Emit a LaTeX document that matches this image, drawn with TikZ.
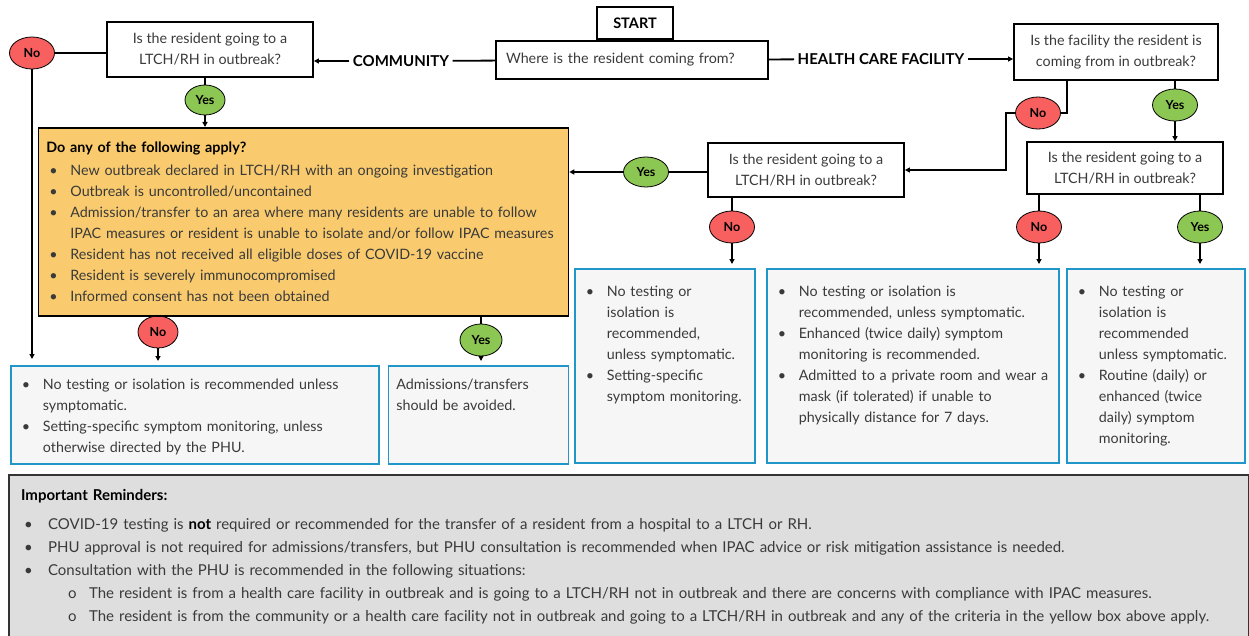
\documentclass[tikz,border=0pt]{standalone}
\usepackage{fontspec}
\setmainfont{Lato}
\usetikzlibrary{positioning, arrows.meta, shapes.geometric}
\definecolor{ycolor}{HTML}{F9CB6E}
\definecolor{nocolor}{HTML}{F85F5F}
\definecolor{yescolor}{HTML}{8DC753}
\definecolor{rcolor}{HTML}{2196C8}
\definecolor{rfill}{HTML}{F6F6F6}
\definecolor{gfill}{HTML}{DEDEDE}
\definecolor{tcolor}{HTML}{3A3A3A}
% bullet line with hanging indent (\bfirst opens the box, \blt starts a new one)
\newcommand{\bfirst}[1][24pt]{\hangindent=#1\hangafter=1\makebox[#1][l]{\hspace{3pt}\textbullet}}
\newcommand{\blt}[1][24pt]{\par\noindent\bfirst[#1]}
\newcommand{\sblt}{\par\noindent\hangindent=68pt\hangafter=1\makebox[68pt][l]{\hspace{47pt}o}}

\begin{document}
\begin{tikzpicture}[x=1pt, y=-1pt,
    qbox/.style={rectangle, draw, line width=1.8pt, align=center, text=tcolor, font=\fontsize{14.3}{21}\selectfont, inner sep=0pt},
    nobub/.style={ellipse, draw, fill=nocolor, line width=0.8pt, minimum width=45pt, minimum height=32pt, inner sep=0pt, font=\fontsize{12.5}{14}\selectfont\bfseries},
    yesbub/.style={nobub, fill=yescolor},
    resbox/.style={rectangle, draw=rcolor, fill=rfill, line width=1.8pt, align=left, text=tcolor, inner xsep=8pt, inner ysep=0pt, anchor=north west, font=\fontsize{14.3}{21}\selectfont},
    lbl/.style={font=\fontsize{15}{17}\selectfont\bfseries},
    conn/.style={line width=1.8pt},
    arr/.style={-{Triangle[length=5pt, width=5pt]}, line width=1.8pt},
  ]
    \useasboundingbox (0,0) rectangle (1249,636);

    % top row
    \node[qbox, line width=2pt, minimum width=76pt, minimum height=32pt, font=\fontsize{14.5}{16}\selectfont\bfseries, text=black] (start) at (635,23) {START};
    \node[qbox, minimum width=272pt, minimum height=38pt, align=left, text width=252pt] (where) at (632,60) {Where is the resident coming from?};
    \node[lbl] (comm) at (401,61) {COMMUNITY};
    \node[lbl] (hcf) at (881,59) {HEALTH CARE FACILITY};
    \node[qbox, minimum width=206pt, minimum height=55pt] (qcomm) at (210,49.5) {Is the resident going to a\\LTCH/RH in outbreak?};
    \node[qbox, minimum width=204pt, minimum height=56pt] (qfac) at (1116,52) {Is the facility the resident is\\coming from in outbreak?};
    \node[qbox, minimum width=196pt, minimum height=54pt] (qmid) at (806,170) {Is the resident going to a\\LTCH/RH in outbreak?};
    \node[qbox, minimum width=196pt, minimum height=52pt] (qright) at (1125,168) {Is the resident going to a\\LTCH/RH in outbreak?};

    % answers
    \node[nobub] (nocomm) at (32,53) {No};
    \node[yesbub, minimum width=40pt, minimum height=30pt] (yescomm) at (205,100) {Yes};
    \node[nobub] (nofac) at (1038,113) {No};
    \node[yesbub] (yesfac) at (1175,105) {Yes};
    \node[yesbub, minimum height=30pt] (yesmid) at (646,172) {Yes};
    \node[nobub] (nomid) at (732,227) {No};
    \node[nobub] (noright) at (1039,227) {No};
    \node[yesbub] (yesright) at (1200,227) {Yes};
    \node[nobub, minimum width=40pt] (noyel) at (158,332) {No};
    \node[yesbub, minimum width=42pt] (yesyel) at (481,340) {Yes};

    % criteria box
    \node[rectangle, draw, fill=ycolor, line width=1.8pt, align=left, text=tcolor, inner xsep=8pt, inner ysep=0pt, anchor=north west,
      font=\fontsize{14.3}{21}\selectfont, text width=514pt, text height=25pt, text depth=163pt] (apply) at (37.5,127)
      {{\color{black}\textbf{Do any of the following apply?}}\par\vspace{2pt}
       \blt New outbreak declared in LTCH/RH with an ongoing investigation
       \blt Outbreak is uncontrolled/uncontained
       \blt Admission/transfer to an area where many residents are unable to follow\newline IPAC measures or resident is unable to isolate and/or follow IPAC measures
       \blt Resident has not received all eligible doses of COVID-19 vaccine
       \blt Resident is severely immunocompromised
       \blt Informed consent has not been obtained\par};

    % outcome boxes
    \node[resbox, text width=352pt, text height=24pt, text depth=74pt] (r1) at (10,365)
      {\bfirst No testing or isolation is recommended unless\newline symptomatic.
       \blt Setting-specific symptom monitoring, unless\newline otherwise directed by the PHU.\par};
    \node[resbox, text width=164pt, text height=24pt, text depth=74pt] (r2) at (387.5,365)
      {Admissions/transfers\\should be avoided.};
    \node[resbox, text width=164pt, text height=28pt, text depth=166pt] (r3) at (574,268)
      {\bfirst No testing or\newline isolation is\newline recommended,\newline unless symptomatic.
       \blt Setting-specific\newline symptom monitoring.\par};
    \node[resbox, text width=276pt, text height=28pt, text depth=166pt] (r4) at (766,268)
      {\bfirst No testing or isolation is\newline recommended, unless symptomatic.
       \blt Enhanced (twice daily) symptom\newline monitoring is recommended.
       \blt Admitted to a private room and wear a\newline mask (if tolerated) if unable to\newline physically distance for 7 days.\par};
    \node[resbox, text width=162pt, text height=28pt, text depth=166pt] (r5) at (1066,268)
      {\bfirst No testing or\newline isolation is\newline recommended\newline unless symptomatic.
       \blt Routine (daily) or\newline enhanced (twice\newline daily) symptom\newline monitoring.\par};

    % reminders
    \node[rectangle, draw=black!80, fill=gfill, line width=2.2pt, align=left, text=tcolor, inner xsep=12pt, inner ysep=0pt, anchor=north west,
      font=\fontsize{15}{23}\selectfont, text width=1216pt, text height=25pt, text depth=180pt] (remind) at (8,474)
      {{\color{black}\textbf{Important Reminders:}}\par\vspace{6pt}
       \blt[22pt] COVID-19 testing is {\color{black}\textbf{not}} required or recommended for the transfer of a resident from a hospital to a LTCH or RH.
       \blt[22pt] PHU approval is not required for admissions/transfers, but PHU consultation is recommended when IPAC advice or risk mitigation assistance is needed.
       \blt[22pt] Consultation with the PHU is recommended in the following situations:
       \sblt The resident is from a health care facility in outbreak and is going to a LTCH/RH not in outbreak and there are concerns with compliance with IPAC measures.
       \sblt The resident is from the community or a health care facility not in outbreak and going to a LTCH/RH in outbreak and any of the criteria in the yellow box above apply.\par};

    % connectors
    \draw[conn] (where) -- (hcf);
    \draw[arr] (hcf) -- (hcf -| qfac.west);
    \draw[conn] (where) -- (comm);
    \draw[arr] (comm) -- (comm -| qcomm.east);
    \draw[conn] (qcomm.west |- nocomm) -- (nocomm);
    \draw[arr, shorten >=6pt] (nocomm) -- (nocomm |- r1.north);
    \draw[conn] (yescomm |- qcomm.south) -- (yescomm);
    \draw[arr] (yescomm) -- (yescomm |- apply.north);
    \draw[conn] (noyel |- apply.south) -- (noyel);
    \draw[arr, shorten >=4pt] (noyel) -- (noyel |- r1.north);
    \draw[conn] (yesyel |- apply.south) -- (yesyel);
    \draw[arr, shorten >=4pt] (yesyel) -- (yesyel |- r2.north);
    \draw[conn] ([xshift=-49pt]qfac.south) |- (nofac);
    \draw[arr] (nofac.west) -- ++(-9,0) |- (qmid.east);
    \draw[conn] (yesfac |- qfac.south) -- (yesfac);
    \draw[arr] (yesfac) -- (yesfac |- qright.north);
    \draw[conn] (qmid.west |- yesmid) -- (yesmid);
    \draw[arr] (yesmid) -- (yesmid -| apply.east);
    \draw[conn] (nomid |- qmid.south) -- (nomid);
    \draw[arr, shorten >=4pt] (nomid) -- (nomid |- r3.north);
    \draw[conn] (noright |- qright.south) -- (noright);
    \draw[arr, shorten >=4pt] (noright) -- (noright |- r4.north);
    \draw[conn] (yesright |- qright.south) -- (yesright);
    \draw[arr, shorten >=4pt] (yesright) -- (yesright |- r5.north);
  \end{tikzpicture}
\end{document}
